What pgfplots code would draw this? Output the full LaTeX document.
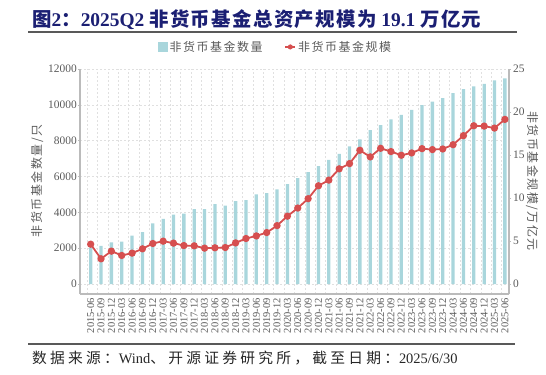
\documentclass[border=0pt]{standalone}
\usepackage{fontspec}
\setmainfont{Liberation Serif}
\newfontfamily\cjk{Noto Sans CJK SC}
\newfontfamily\cjks[LetterSpace=13]{Noto Sans CJK SC}
\newfontfamily\cjkt[LetterSpace=7]{Noto Sans CJK SC}
\newfontfamily\cjkf[LetterSpace=22]{Noto Sans CJK SC}
\usepackage{pgfplots}
\pgfplotsset{compat=1.18}
\definecolor{barc}{HTML}{A9D6DC}
\definecolor{linec}{HTML}{D64F4F}
\definecolor{titc}{HTML}{1B1F73}
\definecolor{txtc}{HTML}{595959}
\definecolor{axc}{HTML}{BBBBBB}
\definecolor{gridc}{HTML}{E0E0E0}
\begin{document}
\begin{tikzpicture}
\useasboundingbox (0bp,0bp) rectangle (546bp,375bp);
\node[anchor=base west, inner sep=0, text=titc, font=\fontsize{19.5}{21}\selectfont\bfseries] at (32bp,348bp) {{\cjkt\bfseries 图}2{\cjkt\bfseries ：}2025Q2 {\cjkt\bfseries 非货币基金总资产规模为} 19.1 {\cjkt\bfseries 万亿元}};
\draw[line width=2bp, color=black!65] (28bp,343bp) -- (517bp,343bp);
\draw[line width=1.5bp, color=black!65] (28bp,31bp) -- (515bp,31bp);
\node[anchor=base west, inner sep=0, text=black!85, font=\fontsize{14.5}{15}\selectfont] at (32bp,12bp) {{\cjkf\fontsize{14.8}{15}\selectfont 数据来源：}Wind{\cjkf\fontsize{14.8}{15}\selectfont 、开源证券研究所，截至日期：}2025/6/30};
\begin{axis}[
  at={(80bp,81bp)}, anchor=south west, scale only axis,
  width=429bp, height=225bp,
  xmin=-1.03, xmax=40.4, ymin=-558, ymax=12000,
  axis y line*=left, axis x line*=bottom,
  axis line style={axc, line width=1.5bp, -},
  ytick={0,2000,...,12000}, scaled y ticks=false,
  ymajorgrids, major grid style={gridc, dash pattern=on 2bp off 2bp, line width=0.6bp},
  xtick={0,...,40},
  xticklabels={2015-06,2015-09,2015-12,2016-03,2016-06,2016-09,2016-12,2017-03,2017-06,2017-09,2017-12,2018-03,2018-06,2018-09,2018-12,2019-03,2019-06,2019-09,2019-12,2020-03,2020-06,2020-09,2020-12,2021-03,2021-06,2021-09,2021-12,2022-03,2022-06,2022-09,2022-12,2023-03,2023-06,2023-09,2023-12,2024-03,2024-06,2024-09,2024-12,2025-03,2025-06},
  minor xtick={-0.32,0.68,...,39.7},
  xminorgrids, minor grid style={gridc, dash pattern=on 2bp off 2bp, line width=0.6bp},
  x tick style={draw=none}, minor x tick style={draw=none},
  y tick style={axc, line width=0.6bp}, tick align=outside, major tick length=2bp,
  /pgf/number format/assume math mode=true,
  /pgf/number format/1000 sep={},
  yticklabel style={font=\fontsize{11.5}{12}\selectfont, text=txtc, inner sep=1bp},
  xticklabel style={rotate=90, anchor=east, font=\fontsize{10.5}{11}\selectfont, text=txtc, inner sep=2bp},
  ylabel={非货币基金数量/只},
  ylabel style={at={(rel axis cs:-0.1,0.502)}, anchor=center, font=\cjks\fontsize{12}{13}\selectfont, text=txtc},
  legend style={at={(0.456,1.098)}, anchor=center, draw=none, fill=none, font=\cjks\fontsize{12}{13}\selectfont, text=txtc, legend columns=2, /tikz/every even column/.append style={column sep=20bp}},
]
\addplot[ybar, bar width=3.3bp, fill=barc, draw=none, forget plot] coordinates {
(0,2040) (1,2130) (2,2330) (3,2370) (4,2700) (5,2890) (6,3390) (7,3630) (8,3870) (9,3926)
(10,4185) (11,4185) (12,4463) (13,4370) (14,4630) (15,4685) (16,5000) (17,5074) (18,5278) (19,5580)
(20,5907) (21,6241) (22,6574) (23,6926) (24,7259) (25,7685) (26,8074) (27,8593) (28,8870) (29,9185)
(30,9444) (31,9722) (32,9981) (33,10185) (34,10370) (35,10648) (36,10870) (37,11037) (38,11167) (39,11370) (40,11481)};
\addlegendimage{legend image code/.code={\fill[barc] (0bp,-4.5bp) rectangle (9bp,4.5bp);}}
\addlegendentry{非货币基金数量}
\addlegendimage{legend image code/.code={\draw[linec, line width=1.5bp] (0bp,0bp) -- (10bp,0bp); \fill[linec] (5bp,0bp) circle (2.3bp);}}
\addlegendentry{非货币基金规模}
\end{axis}
\begin{axis}[
  at={(80bp,81bp)}, anchor=south west, scale only axis,
  width=429bp, height=225bp,
  xmin=-1.03, xmax=40.4, ymin=-1.163, ymax=25,
  axis y line*=right, axis x line=none,
  axis line style={axc, line width=1.5bp, -},
  ytick={0,5,...,25},
  y tick style={axc, line width=0.6bp}, tick align=outside, major tick length=2bp,
  /pgf/number format/assume math mode=true,
  yticklabel style={font=\fontsize{11.5}{12}\selectfont, text=txtc, inner sep=2bp},
  ylabel={非货币基金规模/万亿元},
  ylabel style={at={(rel axis cs:1.0536,0.502)}, anchor=center, rotate=180, font=\cjks\fontsize{12}{13}\selectfont, text=txtc},
]
\addplot[linec, line width=1.8bp, mark=*, mark size=2.7bp, mark options={fill=linec, draw=linec, solid}] coordinates {
(0,4.63) (1,2.93) (2,3.82) (3,3.32) (4,3.59) (5,4.09) (6,4.71) (7,4.98) (8,4.75) (9,4.47)
(10,4.44) (11,4.17) (12,4.21) (13,4.24) (14,4.78) (15,5.29) (16,5.59) (17,5.98) (18,6.79) (19,7.89)
(20,8.83) (21,9.92) (22,11.42) (23,12.08) (24,13.39) (25,14.00) (26,15.55) (27,14.78) (28,15.78) (29,15.40)
(30,14.97) (31,15.24) (32,15.74) (33,15.63) (34,15.70) (35,16.20) (36,17.25) (37,18.40) (38,18.36) (39,18.13) (40,19.14)};
\end{axis}
\end{tikzpicture}
\end{document}
